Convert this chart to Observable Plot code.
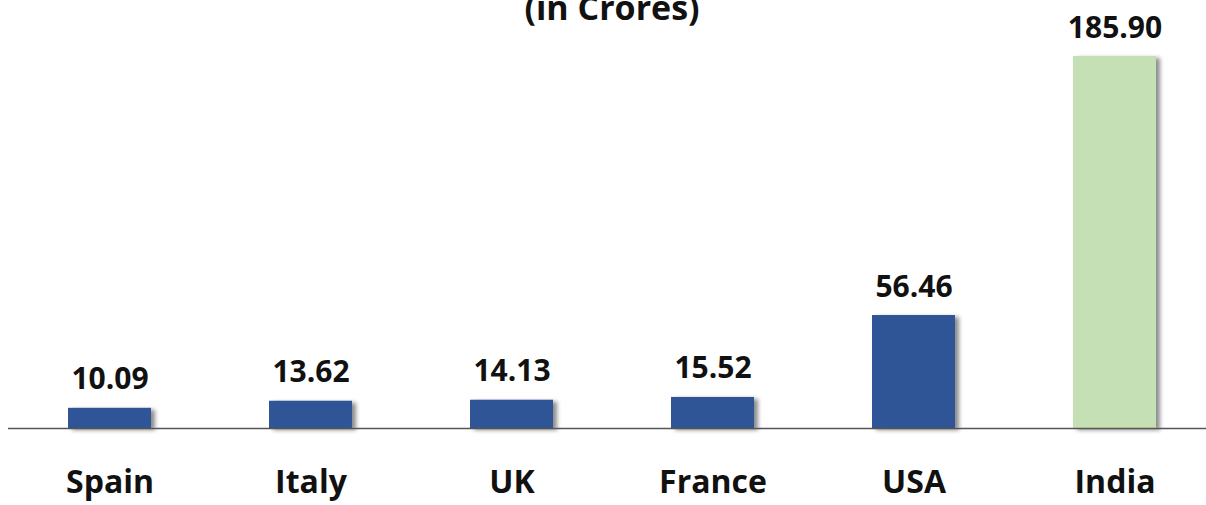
<!DOCTYPE html>
<html>
<head>
<meta charset="utf-8">
<script src="https://cdn.jsdelivr.net/npm/d3@7"></script>
<script src="https://cdn.jsdelivr.net/npm/@observablehq/plot@0.6"></script>
<style>
  html, body { margin: 0; padding: 0; background: #fff; overflow: hidden; }
  #wrap { position: relative; width: 1206px; height: 505px; }
  #title {
    position: absolute; left: 0; width: 1224px; top: -10px;
    text-align: center; font-family: "Open Sans", sans-serif; font-weight: 700;
    font-size: 34px; line-height: 34px; color: #111;
  }
  g[aria-label="bar"] rect { filter: drop-shadow(4px 2px 2px rgba(0,0,0,0.45)); }
</style>
</head>
<body>
<div id="wrap">
  <div id="title">(in Crores)</div>
  <div id="chart"></div>
</div>
<script>
const countries = ["Spain", "Italy", "UK", "France", "USA", "India"];
const values = [10.09, 13.62, 14.13, 15.52, 56.46, 185.90];
const valueLabels = ["10.09", "13.62", "14.13", "15.52", "56.46", "185.90"];
const highlight = ["India"];

const data = countries.map((c, i) => ({country: c, value: values[i], label: valueLabels[i]}));

const chart = Plot.plot({
  width: 1206,
  height: 505,
  marginTop: 56,
  marginBottom: 77,
  marginLeft: 8,
  marginRight: 0,
  style: {fontFamily: "'Open Sans', sans-serif", background: "#fff", color: "#111"},
  x: {domain: countries, range: [8, 1216], paddingInner: 0.587, paddingOuter: 0.291, label: null},
  y: {domain: [0, 185.9], axis: null},
  marks: [
    Plot.barY(data, {
      x: "country", y: "value",
      fill: d => highlight.includes(d.country) ? "#C5E0B4" : "#2F5597"
    }),
    Plot.ruleY([0], {stroke: "#555", strokeWidth: 1.5}),
    Plot.text(data, {
      x: "country", y: "value", text: "label",
      lineAnchor: "bottom", dy: -19,
      fontSize: 30, fontWeight: 700, fill: "#111"
    }),
    Plot.axisX({
      tickSize: 0, tickPadding: 42, fontSize: 32, fontWeight: 700, label: null
    })
  ]
});
document.getElementById("chart").appendChild(chart);
</script>
</body>
</html>
